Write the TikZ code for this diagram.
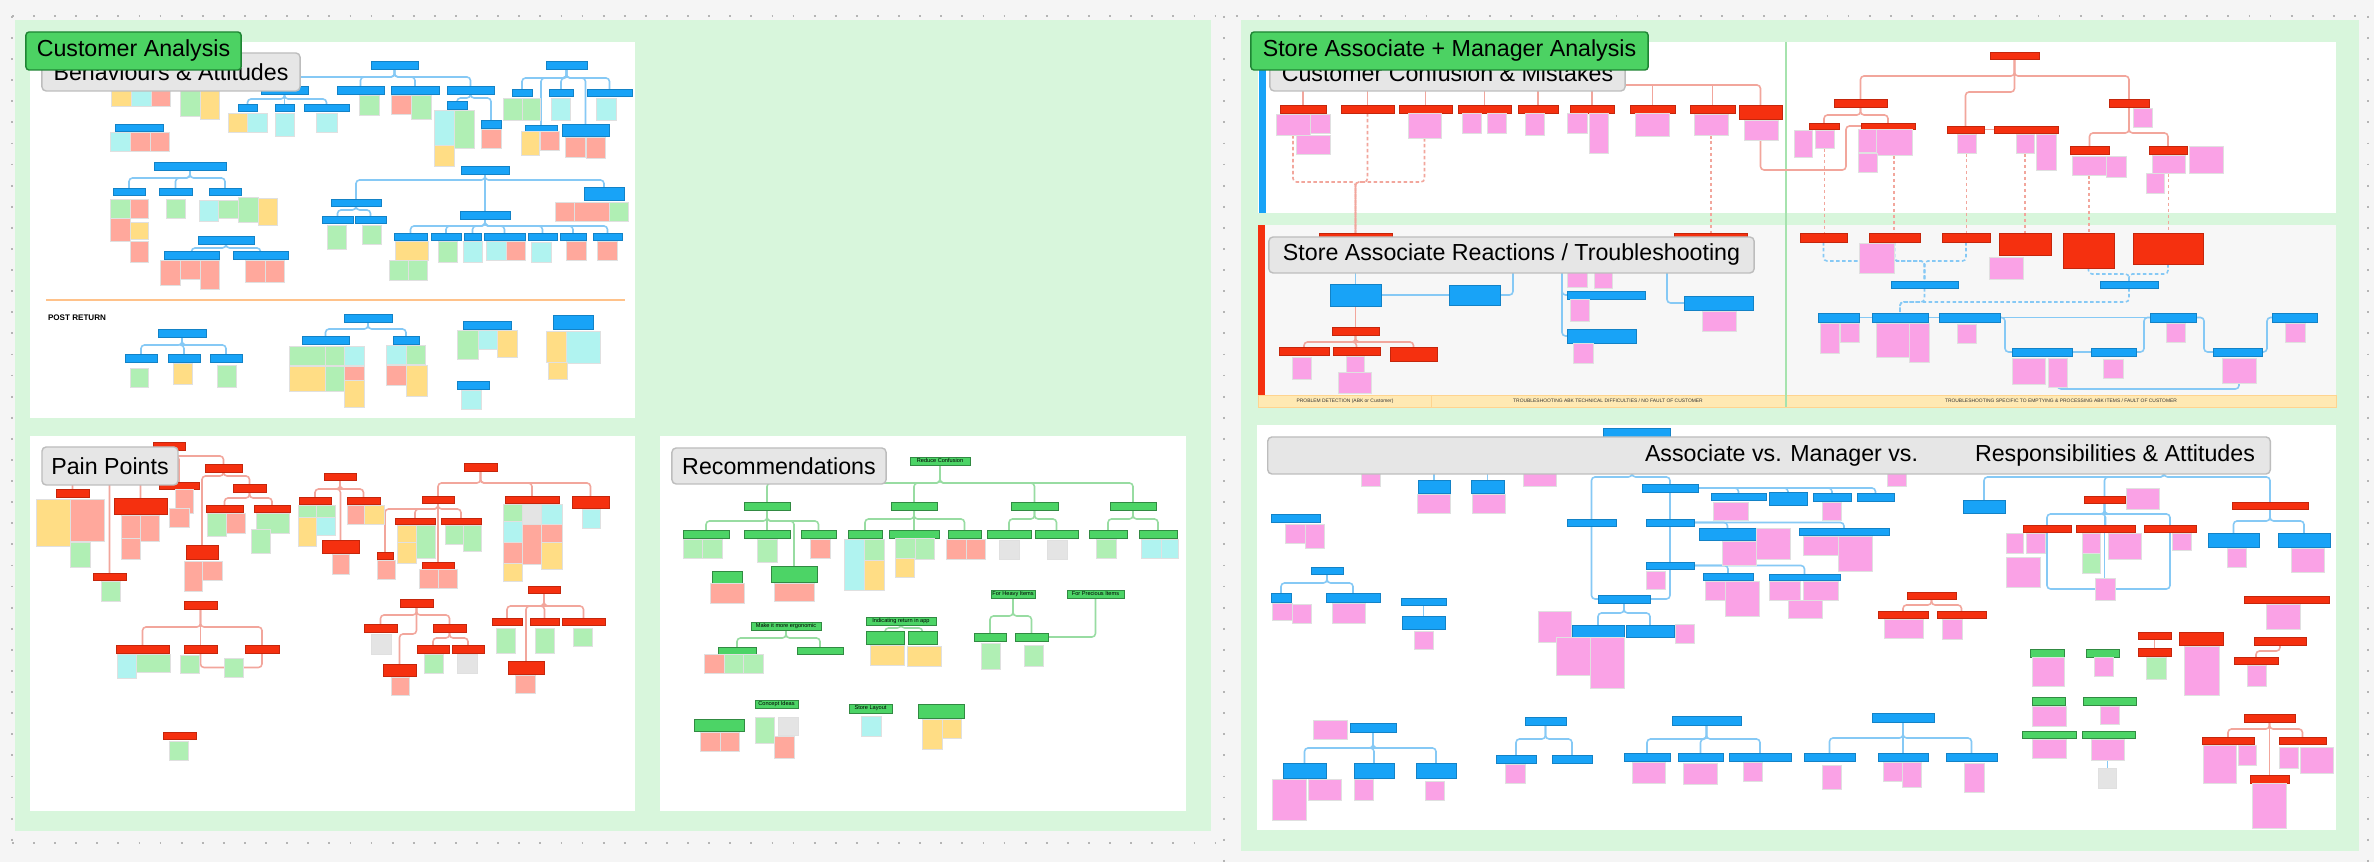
\documentclass[tikz,border=0pt]{standalone}
\usepackage{fontspec}
\setmainfont{Liberation Sans}
\definecolor{bggray}{HTML}{F5F5F5}
\definecolor{selgray}{HTML}{B5B5B5}
\definecolor{frgreen}{HTML}{D8F6DC}
\definecolor{panelgray}{HTML}{F7F7F7}
\definecolor{tagfill}{HTML}{4CD263}
\definecolor{tagline}{HTML}{1F8534}
\definecolor{ttlfill}{HTML}{E6E6E6}
\definecolor{ttlline}{HTML}{BDBDBD}
\definecolor{hdblue}{HTML}{18A3F7}
\definecolor{hdred}{HTML}{F5300F}
\definecolor{hdgreen}{HTML}{4CD466}
\definecolor{styellow}{HTML}{FFDD85}
\definecolor{stgreen}{HTML}{B0EFB4}
\definecolor{stcyan}{HTML}{B0F3F0}
\definecolor{stred}{HTML}{FFA89C}
\definecolor{stpink}{HTML}{FAA2E6}
\definecolor{stgray}{HTML}{E4E4E4}
\definecolor{lnblue}{HTML}{86C9F5}
\definecolor{lnred}{HTML}{F2A69C}
\definecolor{lngreen}{HTML}{98DCA2}
\definecolor{bandyel}{HTML}{FFE9B3}
\definecolor{orangeln}{HTML}{FFC28A}
\definecolor{divgreen}{HTML}{A6E3AE}
\pgfdeclarelayer{bg}
\pgfdeclarelayer{lines}
\pgfsetlayers{bg,lines,main}
\tikzset{
  every node/.style={inner sep=0pt, outer sep=0pt},
  hb/.style={fill=hdblue, draw=hdblue!80!black, line width=0.1pt},
  hr/.style={fill=hdred, draw=hdred!80!black, line width=0.1pt},
  hg/.style={fill=hdgreen, draw=hdgreen!65!black, line width=0.1pt, font=\fontsize{1.6}{1.8}\selectfont},
  stk/.style={draw=black!12, line width=0.1pt},
  sy/.style={stk, fill=styellow},
  sg/.style={stk, fill=stgreen},
  sc/.style={stk, fill=stcyan},
  sr/.style={stk, fill=stred},
  sp/.style={stk, fill=stpink},
  sgy/.style={stk, fill=stgray},
  lb/.style={draw=lnblue, line width=0.45pt, rounded corners=1pt},
  lr/.style={draw=lnred, line width=0.45pt, rounded corners=1pt},
  lg/.style={draw=lngreen, line width=0.45pt, rounded corners=1pt},
  ldr/.style={lr, dash pattern=on 1pt off 0.7pt},
  ldb/.style={lb, dash pattern=on 1pt off 0.7pt},
  tagbox/.style={fill=tagfill, draw=tagline, line width=0.4pt, rounded corners=0.9pt, font=\fontsize{6.6}{7}\selectfont},
  ttlbox/.style={fill=ttlfill, draw=ttlline, line width=0.4pt, rounded corners=1.2pt, font=\fontsize{6.6}{7}\selectfont},
  bandtxt/.style={font=\fontsize{1.4}{1.6}\selectfont, text=black!80},
  selln/.style={draw=selgray, line width=0.6pt, dash pattern=on 0.5pt off 5.5pt},
}
\newcommand{\card}[7]{\node[#1, minimum width={(#5-#3)*0.1mm}, minimum height={(#6-#4)*0.1mm}] (#2) at ({(#3+#5)/2},{(#4+#6)/2}) {#7};}
\newcommand{\branches}[4]{\foreach \kid in {#4} {\draw[#1] (#2.south) -- (#2.south |- 0,#3) -| (\kid.north);}}

\begin{document}
\begin{tikzpicture}[x=0.01cm, y=-0.01cm]
\useasboundingbox (0,0) rectangle (2374,862);
\begin{pgfonlayer}{bg}
\fill[bggray] (0,0) rectangle (2374,862);
\fill[frgreen] (15,20) rectangle (1211,831);
\fill[frgreen] (1241,20) rectangle (2359,851);
\draw[selln] (12,16) -- (2368,16);
\draw[selln] (12,843) -- (1224,843);
\draw[selln] (12,16) -- (12,843);
\draw[selln] (1224,16) -- (1224,862);
\draw[selln] (2368,16) -- (2368,862);
\fill[white] (30,42) rectangle (635,418);
\fill[white] (30,436) rectangle (635,811);
\fill[white] (660,436) rectangle (1186,811);
\fill[white] (1258,42) rectangle (2336,213);
\fill[panelgray] (1258,225) rectangle (2336,395);
\fill[white] (1257,425) rectangle (2336,830);
\fill[bandyel] (1258,395) rectangle (2336,407);
\draw[bandyel!80!orange, line width=0.2pt] (1258,395) rectangle (2336,407);
\draw[bandyel!80!orange, line width=0.2pt] (1431,395) -- (1431,407);
\draw[divgreen, line width=0.3pt] (1786,42) -- (1786,407);
\fill[hdblue] (1259,55) rectangle (1266,213);
\fill[hdred] (1258,225) rectangle (1265,395);
\draw[orangeln, line width=0.7pt] (46,300) -- (625,300);
\end{pgfonlayer}

\card{hb}{bh1}{371}{61}{418}{69}{}
\card{hb}{bh2}{546}{61}{587}{69}{}
\card{hb}{bh3}{261}{86}{308}{94}{}
\card{hb}{bh4}{337}{86}{384}{94}{}
\card{hb}{bh5}{391}{86}{439}{94}{}
\card{hb}{bh6}{447}{86}{494}{94}{}
\card{hb}{bh7}{238}{104}{257}{111}{}
\card{hb}{bh8}{275}{104}{294}{111}{}
\card{hb}{bh9}{304}{104}{349}{111}{}
\card{hb}{bh10}{447}{101}{467}{109}{}
\card{hb}{bh11}{481}{120}{501}{128}{}
\card{hb}{bh12}{512}{89}{532}{96}{}
\card{hb}{bh13}{549}{89}{573}{96}{}
\card{hb}{bh14}{587}{89}{632}{96}{}
\card{hb}{bh15}{525}{125}{557}{131}{}
\card{hb}{bh16}{562}{124}{609}{136}{}
\card{hb}{bh17}{115}{124}{163}{131}{}
\card{hb}{bh18}{154}{162}{226}{170}{}
\card{hb}{bh19}{113}{188}{145}{195}{}
\card{hb}{bh20}{159}{188}{192}{195}{}
\card{hb}{bh21}{209}{188}{241}{195}{}
\card{hb}{bh22}{198}{236}{254}{244}{}
\card{hb}{bh23}{164}{251}{219}{259}{}
\card{hb}{bh24}{233}{251}{288}{259}{}
\card{hb}{bh25}{461}{166}{509}{174}{}
\card{hb}{bh26}{331}{199}{381}{206}{}
\card{hb}{bh27}{460}{211}{510}{219}{}
\card{hb}{bh28}{584}{187}{624}{200}{}
\card{hb}{bh29}{322}{216}{353}{223}{}
\card{hb}{bh30}{355}{216}{386}{223}{}
\card{hb}{bh31}{394}{233}{427}{240}{}
\card{hb}{bh32}{431}{233}{461}{240}{}
\card{hb}{bh33}{464}{233}{481}{240}{}
\card{hb}{bh34}{484}{233}{525}{240}{}
\card{hb}{bh35}{528}{233}{557}{240}{}
\card{hb}{bh36}{560}{233}{586}{240}{}
\card{hb}{bh37}{593}{233}{622}{240}{}
\card{hb}{bh38}{158}{329}{206}{337}{}
\card{hb}{bh39}{125}{354}{157}{362}{}
\card{hb}{bh40}{168}{354}{200}{362}{}
\card{hb}{bh41}{210}{354}{242}{362}{}
\card{hb}{bh42}{344}{314}{392}{322}{}
\card{hb}{bh43}{302}{336}{349}{344}{}
\card{hb}{bh44}{393}{336}{419}{344}{}
\card{hb}{bh45}{463}{321}{511}{329}{}
\card{hb}{bh46}{457}{381}{489}{389}{}
\card{hb}{bh47}{553}{315}{593}{329}{}

\card{sy}{bs1}{111}{90}{131}{106}{}
\card{sc}{bs2}{131}{90}{151}{106}{}
\card{sr}{bs3}{151}{90}{170}{106}{}
\card{sg}{bs4}{180}{90}{200}{116}{}
\card{sy}{bs5}{200}{90}{219}{119}{}
\card{sy}{bs6}{228}{113}{247}{132}{}
\card{sc}{bs7}{247}{113}{267}{132}{}
\card{sc}{bs8}{275}{113}{294}{136}{}
\card{sc}{bs9}{316}{113}{337}{132}{}
\card{sg}{bs10}{359}{95}{379}{115}{}
\card{sr}{bs11}{391}{95}{411}{114}{}
\card{sg}{bs12}{411}{95}{431}{119}{}
\card{sc}{bs13}{434}{110}{454}{145}{}
\card{sg}{bs14}{454}{110}{474}{148}{}
\card{sy}{bs15}{434}{145}{454}{166}{}
\card{sr}{bs16}{481}{129}{501}{148}{}
\card{sg}{bs17}{503}{98}{522}{120}{}
\card{sg}{bs18}{522}{98}{540}{120}{}
\card{sc}{bs19}{551}{98}{570}{120}{}
\card{sc}{bs20}{596}{98}{616}{120}{}
\card{sy}{bs21}{521}{131}{539}{155}{}
\card{sr}{bs22}{540}{131}{559}{150}{}
\card{sr}{bs23}{565}{137}{585}{157}{}
\card{sr}{bs24}{586}{137}{605}{158}{}
\card{sc}{bs25}{110}{132}{130}{151}{}
\card{sr}{bs26}{130}{132}{150}{151}{}
\card{sr}{bs27}{150}{132}{169}{151}{}
\card{sg}{bs28}{110}{199}{130}{218}{}
\card{sr}{bs29}{130}{199}{148}{218}{}
\card{sr}{bs30}{110}{218}{130}{241}{}
\card{sy}{bs31}{130}{222}{148}{239}{}
\card{sr}{bs32}{130}{241}{148}{262}{}
\card{sg}{bs33}{166}{199}{185}{218}{}
\card{sc}{bs34}{199}{200}{218}{221}{}
\card{sg}{bs35}{218}{200}{238}{218}{}
\card{sg}{bs36}{238}{197}{258}{222}{}
\card{sy}{bs37}{258}{198}{277}{225}{}
\card{sr}{bs38}{160}{260}{180}{285}{}
\card{sr}{bs39}{180}{260}{200}{279}{}
\card{sr}{bs40}{200}{260}{219}{289}{}
\card{sr}{bs41}{245}{260}{265}{282}{}
\card{sr}{bs42}{265}{260}{284}{282}{}
\card{sr}{bs43}{555}{202}{574}{221}{}
\card{sr}{bs44}{574}{202}{609}{221}{}
\card{sg}{bs45}{609}{202}{628}{221}{}
\card{sg}{bs46}{327}{225}{346}{249}{}
\card{sg}{bs47}{362}{225}{381}{244}{}
\card{sy}{bs48}{395}{241}{428}{260}{}
\card{sg}{bs49}{389}{260}{408}{280}{}
\card{sg}{bs50}{408}{260}{427}{280}{}
\card{sg}{bs51}{438}{241}{457}{262}{}
\card{sc}{bs52}{463}{241}{482}{262}{}
\card{sc}{bs53}{486}{241}{506}{260}{}
\card{sr}{bs54}{506}{241}{525}{260}{}
\card{sc}{bs55}{531}{242}{551}{262}{}
\card{sr}{bs56}{566}{241}{586}{260}{}
\card{sr}{bs57}{597}{241}{617}{260}{}
\card{sg}{bs58}{130}{368}{148}{387}{}
\card{sy}{bs59}{173}{363}{192}{384}{}
\card{sg}{bs60}{217}{365}{236}{387}{}
\card{sg}{bs61}{289}{346}{325}{365}{}
\card{sg}{bs62}{325}{346}{344}{365}{}
\card{sc}{bs63}{344}{346}{364}{365}{}
\card{sy}{bs64}{289}{366}{325}{391}{}
\card{sg}{bs65}{325}{366}{344}{391}{}
\card{sr}{bs66}{344}{366}{364}{380}{}
\card{sy}{bs67}{344}{380}{364}{407}{}
\card{sc}{bs68}{386}{345}{406}{364}{}
\card{sg}{bs69}{406}{345}{425}{364}{}
\card{sr}{bs70}{386}{365}{406}{385}{}
\card{sy}{bs71}{406}{365}{427}{396}{}
\card{sg}{bs72}{457}{330}{478}{359}{}
\card{sc}{bs73}{478}{330}{497}{349}{}
\card{sy}{bs74}{497}{330}{517}{357}{}
\card{sc}{bs75}{461}{390}{481}{409}{}
\card{sy}{bs76}{546}{331}{566}{362}{}
\card{sc}{bs77}{566}{331}{600}{363}{}
\card{sy}{bs78}{548}{362}{567}{379}{}
\node[font=\bfseries\fontsize{2.3}{2.5}\selectfont, anchor=west] (postret) at (48,318) {POST RETURN};

\card{hr}{ph1}{153}{442}{185}{450}{}
\card{hr}{ph2}{205}{464}{242}{472}{}
\card{hr}{ph3}{93}{573}{126}{580}{}
\card{hr}{ph4}{56}{489}{89}{497}{}
\card{hr}{ph5}{114}{498}{167}{514}{}
\card{hr}{ph6}{159}{482}{199}{489}{}
\card{hr}{ph7}{186}{545}{218}{559}{}
\card{hr}{ph8}{233}{484}{266}{492}{}
\card{hr}{ph9}{206}{505}{243}{512}{}
\card{hr}{ph10}{254}{505}{290}{512}{}
\card{hr}{ph11}{324}{473}{356}{480}{}
\card{hr}{ph12}{299}{497}{331}{504}{}
\card{hr}{ph13}{347}{497}{380}{504}{}
\card{hr}{ph14}{322}{540}{359}{553}{}
\card{hr}{ph15}{464}{463}{497}{471}{}
\card{hr}{ph16}{422}{496}{454}{503}{}
\card{hr}{ph17}{505}{496}{559}{503}{}
\card{hr}{ph18}{572}{496}{609}{508}{}
\card{hr}{ph19}{395}{518}{435}{524}{}
\card{hr}{ph20}{441}{518}{481}{524}{}
\card{hr}{ph21}{377}{552}{393}{559}{}
\card{hr}{ph22}{422}{562}{454}{569}{}
\card{hr}{ph23}{184}{601}{217}{609}{}
\card{hr}{ph24}{116}{645}{169}{653}{}
\card{hr}{ph25}{184}{645}{217}{653}{}
\card{hr}{ph26}{245}{645}{279}{653}{}
\card{hr}{ph27}{400}{599}{433}{607}{}
\card{hr}{ph28}{364}{624}{397}{632}{}
\card{hr}{ph29}{433}{624}{466}{632}{}
\card{hr}{ph30}{383}{664}{416}{676}{}
\card{hr}{ph31}{417}{645}{449}{653}{}
\card{hr}{ph32}{452}{645}{484}{653}{}
\card{hr}{ph33}{528}{586}{560}{593}{}
\card{hr}{ph34}{492}{618}{522}{625}{}
\card{hr}{ph35}{530}{618}{559}{625}{}
\card{hr}{ph36}{562}{618}{605}{625}{}
\card{hr}{ph37}{508}{661}{544}{674}{}
\card{hr}{ph38}{163}{732}{196}{739}{}

\card{sy}{ps1}{36}{499}{70}{546}{}
\card{sr}{ps2}{70}{499}{104}{541}{}
\card{sg}{ps3}{70}{542}{90}{567}{}
\card{sr}{ps4}{121}{515}{140}{538}{}
\card{sr}{ps5}{140}{515}{159}{541}{}
\card{sr}{ps6}{121}{538}{140}{559}{}
\card{sr}{ps7}{175}{489}{193}{513}{}
\card{sr}{ps8}{169}{508}{189}{527}{}
\card{sg}{ps9}{101}{581}{120}{601}{}
\card{sg}{ps10}{207}{513}{226}{536}{}
\card{sr}{ps11}{226}{513}{245}{533}{}
\card{sg}{ps12}{256}{513}{289}{533}{}
\card{sg}{ps13}{251}{529}{270}{553}{}
\card{sr}{ps14}{184}{561}{202}{591}{}
\card{sr}{ps15}{202}{561}{222}{580}{}
\card{sg}{ps16}{298}{505}{316}{517}{}
\card{sg}{ps17}{316}{505}{335}{517}{}
\card{sy}{ps18}{298}{517}{316}{546}{}
\card{sc}{ps19}{316}{517}{335}{535}{}
\card{sr}{ps20}{347}{505}{364}{524}{}
\card{sy}{ps21}{364}{505}{384}{524}{}
\card{sr}{ps22}{332}{554}{349}{574}{}
\card{sy}{ps23}{397}{525}{416}{544}{}
\card{sg}{ps24}{416}{525}{435}{558}{}
\card{sy}{ps25}{397}{542}{416}{563}{}
\card{sg}{ps26}{445}{525}{463}{544}{}
\card{sg}{ps27}{463}{525}{481}{551}{}
\card{sr}{ps28}{377}{560}{395}{579}{}
\card{sr}{ps29}{419}{569}{438}{588}{}
\card{sr}{ps30}{438}{569}{457}{588}{}
\card{sg}{ps31}{503}{504}{522}{521}{}
\card{sgy}{ps32}{522}{504}{541}{524}{}
\card{sc}{ps33}{541}{504}{562}{524}{}
\card{sc}{ps34}{503}{521}{522}{542}{}
\card{sr}{ps35}{522}{524}{541}{564}{}
\card{sr}{ps36}{541}{524}{562}{542}{}
\card{sy}{ps37}{541}{542}{562}{569}{}
\card{sr}{ps38}{503}{542}{522}{563}{}
\card{sy}{ps39}{503}{563}{522}{581}{}
\card{sc}{ps40}{582}{509}{600}{528}{}
\card{sc}{ps41}{117}{654}{136}{678}{}
\card{sg}{ps42}{136}{654}{170}{672}{}
\card{sg}{ps43}{180}{655}{199}{673}{}
\card{sg}{ps44}{224}{658}{243}{677}{}
\card{sgy}{ps45}{371}{634}{391}{654}{}
\card{sg}{ps46}{424}{654}{443}{673}{}
\card{sgy}{ps47}{457}{654}{477}{673}{}
\card{sr}{ps48}{391}{677}{409}{695}{}
\card{sg}{ps49}{496}{628}{515}{653}{}
\card{sg}{ps50}{535}{628}{554}{653}{}
\card{sg}{ps51}{573}{628}{592}{646}{}
\card{sr}{ps52}{515}{675}{535}{693}{}
\card{sg}{ps53}{169}{741}{188}{760}{}

\card{hg}{rh1}{910}{457}{970}{465}{Reduce Confusion}
\card{hg}{rh2}{744}{502}{790}{510}{}
\card{hg}{rh3}{891}{502}{937}{510}{}
\card{hg}{rh4}{1011}{502}{1058}{510}{}
\card{hg}{rh5}{1110}{502}{1156}{510}{}
\card{hg}{rh6}{683}{530}{729}{538}{}
\card{hg}{rh7}{744}{530}{790}{538}{}
\card{hg}{rh8}{801}{530}{836}{538}{}
\card{hg}{rh9}{771}{566}{817}{582}{}
\card{hg}{rh10}{712}{571}{742}{583}{}
\card{hg}{rh11}{848}{530}{882}{538}{}
\card{hg}{rh12}{889}{530}{939}{538}{}
\card{hg}{rh13}{948}{530}{981}{538}{}
\card{hg}{rh14}{987}{530}{1031}{538}{}
\card{hg}{rh15}{1035}{530}{1078}{538}{}
\card{hg}{rh16}{1089}{530}{1127}{538}{}
\card{hg}{rh17}{1139}{530}{1177}{538}{}
\card{hg}{rh18}{991}{590}{1035}{598}{For Heavy Items}
\card{hg}{rh19}{1067}{590}{1124}{598}{For Precious Items}
\card{hg}{rh20}{974}{633}{1006}{641}{}
\card{hg}{rh21}{1015}{633}{1048}{641}{}
\card{hg}{rh22}{751}{622}{821}{630}{Make it more ergonomic}
\card{hg}{rh23}{718}{647}{756}{654}{}
\card{hg}{rh24}{797}{647}{843}{654}{}
\card{hg}{rh25}{866}{617}{936}{625}{Indicating return in app}
\card{hg}{rh26}{866}{631}{904}{644}{}
\card{hg}{rh27}{908}{631}{937}{644}{}
\card{hg}{rh28}{755}{700}{798}{708}{Concept Ideas}
\card{hg}{rh29}{694}{719}{744}{731}{}
\card{hg}{rh30}{849}{704}{892}{713}{Store Layout}
\card{hg}{rh31}{918}{704}{964}{718}{}

\card{sg}{rs1}{683}{539}{702}{558}{}
\card{sg}{rs2}{702}{539}{722}{558}{}
\card{sg}{rs3}{757}{539}{777}{562}{}
\card{sr}{rs4}{810}{539}{830}{558}{}
\card{sr}{rs5}{710}{583}{744}{603}{}
\card{sr}{rs6}{774}{583}{814}{601}{}
\card{sc}{rs7}{844}{539}{864}{590}{}
\card{sg}{rs8}{864}{539}{884}{560}{}
\card{sy}{rs9}{864}{560}{884}{590}{}
\card{sg}{rs10}{895}{538}{915}{559}{}
\card{sg}{rs11}{915}{538}{934}{559}{}
\card{sy}{rs12}{895}{558}{914}{577}{}
\card{sr}{rs13}{946}{539}{966}{559}{}
\card{sr}{rs14}{966}{539}{985}{559}{}
\card{sgy}{rs15}{999}{540}{1019}{559}{}
\card{sgy}{rs16}{1047}{540}{1067}{559}{}
\card{sg}{rs17}{1096}{539}{1116}{558}{}
\card{sc}{rs18}{1141}{539}{1161}{558}{}
\card{sc}{rs19}{1161}{539}{1178}{558}{}
\card{sg}{rs20}{981}{643}{1000}{669}{}
\card{sg}{rs21}{1024}{645}{1043}{666}{}
\card{sr}{rs22}{704}{654}{724}{673}{}
\card{sg}{rs23}{724}{654}{743}{673}{}
\card{sg}{rs24}{743}{654}{763}{673}{}
\card{sy}{rs25}{870}{645}{904}{665}{}
\card{sy}{rs26}{907}{646}{941}{666}{}
\card{sr}{rs27}{700}{732}{720}{751}{}
\card{sr}{rs28}{720}{732}{739}{751}{}
\card{sg}{rs29}{755}{717}{774}{743}{}
\card{sgy}{rs30}{778}{717}{798}{735}{}
\card{sr}{rs31}{774}{736}{794}{758}{}
\card{sc}{rs32}{861}{716}{881}{736}{}
\card{sy}{rs33}{922}{719}{942}{749}{}
\card{sy}{rs34}{942}{719}{961}{738}{}

\card{hr}{ch1}{1280}{105}{1326}{113}{}
\card{hr}{ch2}{1341}{105}{1394}{113}{}
\card{hr}{ch3}{1399}{105}{1452}{113}{}
\card{hr}{ch4}{1458}{105}{1511}{113}{}
\card{hr}{ch5}{1518}{105}{1558}{113}{}
\card{hr}{ch6}{1570}{105}{1614}{113}{}
\card{hr}{ch7}{1630}{105}{1675}{113}{}
\card{hr}{ch8}{1690}{105}{1735}{113}{}
\card{hr}{ch9}{1739}{105}{1782}{119}{}
\card{hr}{ch10}{1990}{52}{2039}{59}{}
\card{hr}{ch11}{1834}{99}{1887}{107}{}
\card{hr}{ch12}{2109}{99}{2149}{107}{}
\card{hr}{ch13}{1947}{126}{1984}{133}{}
\card{hr}{ch14}{1994}{126}{2058}{133}{}
\card{hr}{ch15}{1809}{123}{1839}{129}{}
\card{hr}{ch16}{1861}{123}{1915}{129}{}
\card{hr}{ch17}{2070}{146}{2109}{154}{}
\card{hr}{ch18}{2149}{146}{2187}{154}{}

\card{sp}{cs1}{1276}{114}{1310}{135}{}
\card{sp}{cs2}{1310}{114}{1330}{133}{}
\card{sp}{cs3}{1296}{135}{1330}{154}{}
\card{sp}{cs4}{1408}{113}{1441}{138}{}
\card{sp}{cs5}{1462}{113}{1481}{133}{}
\card{sp}{cs6}{1487}{113}{1506}{133}{}
\card{sp}{cs7}{1525}{113}{1544}{135}{}
\card{sp}{cs8}{1567}{113}{1587}{133}{}
\card{sp}{cs9}{1589}{113}{1608}{153}{}
\card{sp}{cs10}{1635}{113}{1669}{136}{}
\card{sp}{cs11}{1694}{114}{1728}{135}{}
\card{sp}{cs12}{1744}{120}{1778}{140}{}
\card{sp}{cs13}{1794}{130}{1812}{157}{}
\card{sp}{cs14}{1815}{130}{1834}{148}{}
\card{sp}{cs15}{1858}{129}{1876}{152}{}
\card{sp}{cs16}{1876}{129}{1912}{155}{}
\card{sp}{cs17}{1858}{153}{1877}{172}{}
\card{sp}{cs18}{1957}{134}{1976}{153}{}
\card{sp}{cs19}{2016}{134}{2034}{153}{}
\card{sp}{cs20}{2036}{134}{2056}{170}{}
\card{sp}{cs21}{2133}{108}{2152}{127}{}
\card{sp}{cs22}{2072}{156}{2106}{175}{}
\card{sp}{cs23}{2106}{156}{2126}{177}{}
\card{sp}{cs24}{2152}{155}{2185}{173}{}
\card{sp}{cs25}{2189}{146}{2223}{173}{}
\card{sp}{cs26}{2146}{173}{2164}{193}{}

\card{hr}{xr1}{1319}{233}{1392}{240}{}
\card{hr}{xr2}{1674}{233}{1747}{240}{}
\card{hr}{xr3}{1800}{233}{1847}{242}{}
\card{hr}{xr4}{1869}{233}{1920}{242}{}
\card{hr}{xr5}{1942}{233}{1990}{242}{}
\card{hr}{xr6}{1999}{233}{2051}{255}{}
\card{hr}{xr7}{2063}{233}{2114}{268}{}
\card{hr}{xr8}{2133}{233}{2203}{264}{}
\card{hr}{xr9}{1332}{327}{1379}{335}{}
\card{hr}{xr10}{1279}{347}{1329}{355}{}
\card{hr}{xr11}{1333}{347}{1380}{355}{}
\card{hr}{xr12}{1390}{347}{1437}{361}{}
\card{hb}{xb1}{1330}{284}{1381}{306}{}
\card{hb}{xb2}{1449}{285}{1500}{305}{}
\card{hb}{xb3}{1567}{291}{1645}{299}{}
\card{hb}{xb4}{1567}{329}{1636}{343}{}
\card{hb}{xb5}{1684}{296}{1753}{310}{}
\card{hb}{xb6}{1891}{281}{1958}{288}{}
\card{hb}{xb7}{2100}{281}{2158}{288}{}
\card{hb}{xb8}{1818}{313}{1859}{322}{}
\card{hb}{xb9}{1872}{313}{1928}{322}{}
\card{hb}{xb10}{1939}{313}{2000}{322}{}
\card{hb}{xb11}{2150}{313}{2196}{322}{}
\card{hb}{xb12}{2272}{313}{2317}{322}{}
\card{hb}{xb13}{2012}{348}{2072}{356}{}
\card{hb}{xb14}{2091}{348}{2136}{356}{}
\card{hb}{xb15}{2213}{348}{2262}{356}{}

\card{sp}{xs1}{1859}{243}{1894}{273}{}
\card{sp}{xs2}{1989}{257}{2023}{279}{}
\card{sp}{xs3}{1567}{262}{1587}{287}{}
\card{sp}{xs4}{1594}{262}{1612}{288}{}
\card{sp}{xs5}{1570}{299}{1589}{321}{}
\card{sp}{xs6}{1573}{343}{1593}{363}{}
\card{sp}{xs7}{1702}{311}{1736}{331}{}
\card{sp}{xs8}{1292}{357}{1311}{379}{}
\card{sp}{xs9}{1346}{356}{1364}{372}{}
\card{sp}{xs10}{1338}{372}{1371}{393}{}
\card{sp}{xs11}{1820}{323}{1839}{353}{}
\card{sp}{xs12}{1840}{323}{1859}{342}{}
\card{sp}{xs13}{1876}{323}{1909}{357}{}
\card{sp}{xs14}{1909}{323}{1929}{362}{}
\card{sp}{xs15}{1957}{324}{1976}{343}{}
\card{sp}{xs16}{2166}{323}{2185}{342}{}
\card{sp}{xs17}{2285}{323}{2305}{342}{}
\card{sp}{xs18}{2012}{358}{2045}{384}{}
\card{sp}{xs19}{2048}{358}{2067}{387}{}
\card{sp}{xs20}{2103}{359}{2123}{378}{}
\card{sp}{xs21}{2222}{358}{2256}{383}{}
\node[bandtxt] (bt1) at (1345,401) {PROBLEM DETECTION (ABK or Customer)};
\node[bandtxt] (bt2) at (1608,401) {TROUBLESHOOTING ABK TECHNICAL DIFFICULTIES / NO FAULT OF CUSTOMER};
\node[bandtxt] (bt3) at (2061,401) {TROUBLESHOOTING SPECIFIC TO EMPTYING \& PROCESSING ABK ITEMS / FAULT OF CUSTOMER};

\card{hb}{ab1}{1603}{428}{1670}{437}{}
\card{hb}{ab2}{1418}{480}{1450}{493}{}
\card{hb}{ab3}{1471}{480}{1504}{493}{}
\card{hb}{ab4}{1271}{514}{1320}{522}{}
\card{hb}{ab5}{1311}{567}{1343}{574}{}
\card{hb}{ab6}{1271}{593}{1291}{602}{}
\card{hb}{ab7}{1326}{593}{1380}{602}{}
\card{hb}{ab8}{1401}{598}{1446}{605}{}
\card{hb}{ab9}{1402}{616}{1445}{629}{}
\card{hb}{ab10}{1567}{519}{1616}{526}{}
\card{hb}{ab11}{1642}{484}{1698}{492}{}
\card{hb}{ab12}{1598}{595}{1650}{603}{}
\card{hb}{ab13}{1646}{519}{1694}{526}{}
\card{hb}{ab14}{1646}{562}{1694}{569}{}
\card{hb}{ab15}{1711}{493}{1766}{500}{}
\card{hb}{ab16}{1769}{492}{1807}{505}{}
\card{hb}{ab17}{1813}{493}{1851}{501}{}
\card{hb}{ab18}{1857}{493}{1894}{501}{}
\card{hb}{ab19}{1699}{528}{1756}{540}{}
\card{hb}{ab20}{1799}{528}{1889}{535}{}
\card{hb}{ab21}{1703}{573}{1753}{580}{}
\card{hb}{ab22}{1769}{574}{1840}{580}{}
\card{hb}{ab23}{1572}{625}{1624}{637}{}
\card{hb}{ab24}{1626}{625}{1674}{637}{}
\card{hb}{ab25}{1963}{500}{2005}{513}{}
\card{hb}{ab26}{2208}{533}{2259}{547}{}
\card{hb}{ab27}{2278}{533}{2330}{547}{}
\card{hb}{ab28}{1350}{723}{1396}{732}{}
\card{hb}{ab29}{1283}{763}{1326}{778}{}
\card{hb}{ab30}{1354}{763}{1394}{778}{}
\card{hb}{ab31}{1416}{763}{1456}{778}{}
\card{hb}{ab32}{1525}{717}{1566}{725}{}
\card{hb}{ab33}{1496}{755}{1536}{763}{}
\card{hb}{ab34}{1552}{755}{1592}{763}{}
\card{hb}{ab35}{1672}{716}{1741}{725}{}
\card{hb}{ab36}{1624}{753}{1670}{761}{}
\card{hb}{ab37}{1678}{753}{1723}{761}{}
\card{hb}{ab38}{1729}{753}{1791}{761}{}
\card{hb}{ab39}{1872}{713}{1934}{722}{}
\card{hb}{ab40}{1804}{753}{1855}{761}{}
\card{hb}{ab41}{1878}{753}{1928}{761}{}
\card{hb}{ab42}{1946}{753}{1997}{761}{}
\card{hr}{ar1}{2084}{496}{2125}{503}{}
\card{hr}{ar2}{2232}{502}{2308}{509}{}
\card{hr}{ar3}{2023}{525}{2071}{532}{}
\card{hr}{ar4}{2076}{525}{2135}{532}{}
\card{hr}{ar5}{2144}{525}{2196}{532}{}
\card{hr}{ar6}{2244}{596}{2329}{603}{}
\card{hr}{ar7}{1907}{592}{1956}{599}{}
\card{hr}{ar8}{1878}{611}{1928}{618}{}
\card{hr}{ar9}{1937}{611}{1986}{618}{}
\card{hr}{ar10}{2138}{632}{2171}{639}{}
\card{hr}{ar11}{2138}{648}{2171}{656}{}
\card{hr}{ar12}{2179}{632}{2223}{645}{}
\card{hr}{ar13}{2254}{637}{2306}{645}{}
\card{hr}{ar14}{2234}{657}{2278}{664}{}
\card{hr}{ar15}{2244}{714}{2295}{722}{}
\card{hr}{ar16}{2202}{737}{2254}{744}{}
\card{hr}{ar17}{2279}{737}{2326}{744}{}
\card{hr}{ar18}{2250}{775}{2289}{783}{}
\card{hg}{ag1}{2030}{649}{2064}{657}{}
\card{hg}{ag2}{2086}{649}{2119}{657}{}
\card{hg}{ag3}{2032}{697}{2065}{705}{}
\card{hg}{ag4}{2083}{697}{2136}{705}{}
\card{hg}{ag5}{2022}{731}{2076}{738}{}
\card{hg}{ag6}{2082}{731}{2135}{738}{}

\card{sp}{as1}{1361}{466}{1380}{486}{}
\card{sp}{as2}{1417}{494}{1450}{513}{}
\card{sp}{as3}{1472}{494}{1505}{513}{}
\card{sp}{as4}{1523}{466}{1556}{486}{}
\card{sp}{as5}{1887}{466}{1906}{486}{}
\card{sp}{as6}{1285}{524}{1305}{543}{}
\card{sp}{as7}{1305}{524}{1324}{548}{}
\card{sp}{as8}{1272}{603}{1292}{620}{}
\card{sp}{as9}{1292}{604}{1311}{623}{}
\card{sp}{as10}{1332}{603}{1365}{623}{}
\card{sp}{as11}{1414}{631}{1433}{649}{}
\card{sp}{as12}{1822}{502}{1841}{520}{}
\card{sp}{as13}{1713}{502}{1748}{520}{}
\card{sp}{as14}{1722}{541}{1756}{565}{}
\card{sp}{as15}{1756}{528}{1790}{559}{}
\card{sp}{as16}{1803}{536}{1838}{555}{}
\card{sp}{as17}{1838}{536}{1872}{571}{}
\card{sp}{as18}{1646}{571}{1665}{589}{}
\card{sp}{as19}{1725}{581}{1759}{616}{}
\card{sp}{as20}{1705}{581}{1725}{600}{}
\card{sp}{as21}{1769}{581}{1800}{600}{}
\card{sp}{as22}{1803}{581}{1838}{600}{}
\card{sp}{as23}{1788}{600}{1822}{618}{}
\card{sp}{as24}{1538}{611}{1571}{642}{}
\card{sp}{as25}{1556}{637}{1590}{675}{}
\card{sp}{as26}{1590}{637}{1624}{688}{}
\card{sp}{as27}{1675}{624}{1694}{643}{}
\card{sp}{as28}{2126}{488}{2159}{509}{}
\card{sp}{as29}{2006}{533}{2023}{553}{}
\card{sp}{as30}{2026}{533}{2045}{553}{}
\card{sp}{as31}{2006}{557}{2040}{587}{}
\card{sp}{as32}{2082}{533}{2100}{553}{}
\card{sg}{as33}{2082}{553}{2100}{573}{}
\card{sp}{as34}{2108}{533}{2141}{559}{}
\card{sp}{as35}{2172}{533}{2191}{550}{}
\card{sp}{as36}{2095}{578}{2115}{600}{}
\card{sp}{as37}{2227}{548}{2246}{567}{}
\card{sp}{as38}{2291}{548}{2324}{572}{}
\card{sp}{as39}{2266}{604}{2300}{629}{}
\card{sp}{as40}{1884}{619}{1923}{638}{}
\card{sp}{as41}{1942}{619}{1962}{639}{}
\card{sg}{as42}{2146}{657}{2166}{679}{}
\card{sp}{as43}{2184}{646}{2219}{695}{}
\card{sp}{as44}{2247}{665}{2266}{686}{}
\card{sp}{as45}{2032}{657}{2064}{686}{}
\card{sp}{as46}{2094}{657}{2113}{676}{}
\card{sp}{as47}{2032}{706}{2066}{726}{}
\card{sp}{as48}{2100}{706}{2119}{724}{}
\card{sp}{as49}{2032}{739}{2066}{758}{}
\card{sp}{as50}{2091}{739}{2124}{760}{}
\card{sgy}{as51}{2098}{768}{2116}{788}{}
\card{sp}{as52}{1313}{720}{1347}{739}{}
\card{sp}{as53}{1272}{779}{1306}{820}{}
\card{sp}{as54}{1308}{779}{1341}{800}{}
\card{sp}{as55}{1354}{779}{1373}{800}{}
\card{sp}{as56}{1425}{781}{1444}{800}{}
\card{sp}{as57}{1505}{764}{1525}{783}{}
\card{sp}{as58}{1632}{762}{1665}{783}{}
\card{sp}{as59}{1683}{763}{1717}{784}{}
\card{sp}{as60}{1743}{762}{1762}{781}{}
\card{sp}{as61}{1822}{765}{1841}{789}{}
\card{sp}{as62}{1883}{762}{1902}{781}{}
\card{sp}{as63}{1902}{762}{1921}{787}{}
\card{sp}{as64}{1964}{763}{1984}{792}{}
\card{sp}{as65}{2203}{745}{2236}{783}{}
\card{sp}{as66}{2238}{745}{2256}{765}{}
\card{sp}{as67}{2279}{747}{2298}{768}{}
\card{sp}{as68}{2300}{747}{2333}{773}{}
\card{sp}{as69}{2252}{783}{2286}{828}{}

\card{ttlbox}{lbba}{42}{53}{300}{91}{Behaviours \& Attitudes}
\card{tagbox}{tgca}{26}{32}{241}{70}{Customer Analysis}
\card{ttlbox}{lbpp}{42}{447}{178}{485}{Pain Points}
\card{ttlbox}{lbrc}{672}{448}{886}{484}{Recommendations}
\card{ttlbox}{ccm}{1270}{55}{1625}{91}{Customer Confusion \& Mistakes}
\card{tagbox}{tgsa}{1251}{32}{1648}{70}{Store Associate + Manager Analysis}
\card{ttlbox}{lbrt}{1269}{237}{1754}{273}{Store Associate Reactions / Troubleshooting}
\card{ttlbox}{avm}{1268}{437}{2270}{474}{}
\node[font=\fontsize{6.6}{7}\selectfont, anchor=west] (avm1) at (1645,455.5) {Associate vs. Manager vs.};
\node[font=\fontsize{6.6}{7}\selectfont, anchor=west] (avm2) at (1975,455.5) {Responsibilities \& Attitudes};
\coordinate (xa) at (1513,265);
\coordinate (xc) at (1562,265);
\coordinate (xd) at (1667,265);
\coordinate (ctop) at (1632,474);
\coordinate (rtop) at (2164,474);

\begin{pgfonlayer}{lines}
\branches{lb}{bh1}{77}{bh3,bh4,bh5,bh6}
\branches{lb}{bh2}{78}{bh12,bh13,bh14,bh15,bh16}
\branches{lb}{bh3}{99}{bh7,bh8,bh9}
\branches{lb}{bh6}{98}{bh10,bh11}
\branches{lb}{bh18}{178}{bh19,bh20,bh21}
\branches{lb}{bh22}{248}{bh23,bh24}
\branches{lb}{bh25}{180}{bh26,bh27,bh28}
\branches{lb}{bh26}{210}{bh29,bh30}
\branches{lb}{bh27}{226}{bh31,bh32,bh33,bh34,bh35,bh36,bh37}
\branches{lb}{bh38}{345}{bh39,bh40,bh41}
\branches{lb}{bh42}{329}{bh43,bh44}

\branches{lr}{ph1}{456}{ph2,ph4,ph5,ph6,ph3}
\branches{lr}{ph2}{476}{ph7,ph8}
\branches{lr}{ph8}{498}{ph9,ph10}
\branches{lr}{ph11}{489}{ph12,ph13,ph14}
\branches{lr}{ph15}{483}{ph16,ph17,ph18}
\branches{lr}{ph16}{509}{ph19,ph20,ph21,ph22}
\branches{lr}{ph23}{627}{ph24,ph25,ph26}
\draw[lr] (ph25.south) |- (ps44.west);
\draw[lr] (ph26.south) |- (ps44.east);
\branches{lr}{ph27}{615}{ph28,ph29}
\draw[lr] (ph27.south) -- (ph27.south |- 0,634) -| (ph30.north);
\branches{lr}{ph29}{638}{ph31,ph32}
\branches{lr}{ph33}{606}{ph34,ph35,ph36,ph37}

\branches{lg}{rh1}{483}{rh2,rh3,rh4,rh5}
\branches{lg}{rh2}{521}{rh6,rh7,rh8,rh9}
\branches{lg}{rh3}{519}{rh11,rh12,rh13}
\branches{lg}{rh4}{519}{rh14,rh15}
\branches{lg}{rh5}{519}{rh16,rh17}
\branches{lg}{rh18}{616}{rh20,rh21}
\draw[lg] (rh19.south) |- (rh21.east);
\branches{lg}{rh22}{638}{rh23,rh24}
\branches{lg}{rh25}{628}{rh26,rh27}

\draw[lr] (ch1.north |- ccm.south) -- (ch1.north);
\draw[lr] (ch2.north |- ccm.south) -- (ch2.north);
\draw[lr] (ch3.north |- ccm.south) -- (ch3.north);
\draw[lr] (ch4.north |- ccm.south) -- (ch4.north);
\draw[lr] (ch5.north |- ccm.south) -- (ch5.north);
\draw[lr] (ch6.north |- ccm.south) -- (ch6.north);
\draw[lr] (ccm.east |- 0,85) -| (ch9.north);
\draw[lr] (ch7.north |- 0,85) -- (ch7.north);
\draw[lr] (ch8.north |- 0,85) -- (ch8.north);
\branches{lr}{ch10}{76}{ch11,ch12}
\draw[lr] (ch10.south) -- (ch10.south |- 0,92) -| (ch13.north);
\draw[lr] (ch13.east) -- (ch14.west);
\branches{lr}{ch11}{115}{ch15,ch16}
\branches{lr}{ch12}{133}{ch17,ch18}
\draw[lr] (ch9.south) |- (1846,170) |- (ch16.west);
\draw[ldr] (cs1.south) -- (cs1.south |- 0,182) -| (xr1.north);
\draw[ldr] (ch2.south) -- (ch2.south |- 0,182) -| (xr1.north);
\draw[ldr] (cs4.south) -- (cs4.south |- 0,182) -| (xr1.north);
\draw[ldr] (cs11.south) -- (cs11.south |- xr2.north);
\draw[ldr] (cs14.south) -- (cs14.south |- xr3.north);
\draw[ldr] (cs16.south) -- (cs16.south |- xr4.north);
\draw[ldr] (cs18.south) -- (cs18.south |- xr5.north);
\draw[ldr] (cs19.south) -- (cs19.south |- xr6.north);
\draw[ldr] (cs22.south) -- (cs22.south |- xr7.north);
\draw[ldr] (cs24.south) -- (cs24.south |- xr8.north);

\draw[lb] (xr1.south) -- (xb1.north);
\draw[lr] (xb1.south) -- (xr9.north);
\draw[lb] (xb1.east) -- (xb2.west);
\draw[lb] (xb2.east) -| (xa);
\draw[lb] (xc) |- (xb3.west);
\draw[lb] (xc) |- (xb4.west);
\draw[lb] (xd) |- (xb5.west);
\branches{lr}{xr9}{342}{xr10,xr11,xr12}
\draw[ldb] (xr3.south) |- (xb6.north |- 0,261) -- (xb6.north);
\draw[ldb] (xr4.south) |- (xb6.north |- 0,261) -- (xb6.north);
\draw[ldb] (xr5.south) |- (xb6.north |- 0,261) -- (xb6.north);
\draw[ldb] (xr7.south) |- (xb7.north |- 0,274) -- (xb7.north);
\draw[ldb] (xr8.south) |- (xb7.north |- 0,274) -- (xb7.north);
\draw[ldb] (xb6.south) -- (xb6.south |- 0,302) -| (xb9.north);
\draw[ldb] (xb7.south) -- (xb7.south |- 0,302) -| (xb9.north);
\draw[lb] (xb8.east) -- (xb9.west);
\draw[lb] (xb9.east) -- (xb10.west);
\draw[lb] (xb10.east) -- (xb11.west);
\draw[lb] (xb10.east) -- ++(5,0) |- (xb13.west);
\draw[lb] (xb13.east) -- (xb14.west);
\draw[lb] (xb14.east) -- ++(8,0) |- (xb11.west);
\draw[lb] (xb11.east) -- ++(8,0) |- (xb15.west);
\draw[lb] (xb15.east) -- ++(5,0) |- (xb12.west);
\draw[lb] (xs19.south) |- (xs21.south |- 0,389) -- (xs21.south);

\draw[lb] (ab2.north |- avm.south) -- (ab2.north);
\draw[lb] (ab3.north |- avm.south) -- (ab3.north);
\draw[lb] (ctop) -- ++(0,3) -| (ab10.north);
\draw[lb] (ctop) -- ++(0,3) -| (ab11.north);
\draw[lb] (ab10.south) |- (ab12.west);
\draw[lb] (ab11.south) -- (ab13.north);
\draw[lb] (ab13.south) -- (ab14.north);
\draw[lb] (ab14.south) |- (ab12.east);
\draw[lb] (ab11.east) -| (ab15.north);
\draw[lb] (ab11.east) -| (ab16.north);
\draw[lb] (ab11.east) -| (ab17.north);
\draw[lb] (ab11.east) -| (ab18.north);
\draw[lb] (ab13.east) -| (ab19.north);
\draw[lb] (ab13.east) -| (ab20.north);
\draw[lb] (ab14.east) -| (ab21.north);
\draw[lb] (ab14.east) -| (ab22.north);
\branches{lb}{ab12}{613}{ab23,ab24}
\branches{lb}{ab5}{583}{ab6,ab7}
\draw[lb] (ab8.south) -- (ab9.north);
\branches{lb}{ab28}{748}{ab29,ab30,ab31}
\branches{lb}{ab32}{739}{ab33,ab34}
\branches{lb}{ab35}{739}{ab36,ab37,ab38}
\branches{lb}{ab39}{738}{ab40,ab41,ab42}
\draw[lb] (rtop) -- ++(0,3) -| (ab25.north);
\draw[lb] (rtop) -- ++(0,3) -| (ar1.north);
\draw[lb] (rtop) -- ++(0,3) -| (ar2.north);
\branches{lb}{ar1}{514}{ar3,ar4,ar5}
\draw[lb] (ar1.south) -- (ar1.south |- as36.north);
\draw[lb] (ar3.south) |- (as36.west);
\draw[lb] (ar5.south) |- (as36.east);
\branches{lb}{ar2}{521}{ab26,ab27}
\branches{lr}{ar7}{605}{ar8,ar9}
\draw[lr] (ar10.south) -- (ar11.north);
\draw[lr] (ar13.south) -- ++(0,6) -| (ar14.north);
\branches{lr}{ar15}{729}{ar16,ar17,ar18}
\draw[lb] (as50.south) -- (as50.south |- as51.north);
\end{pgfonlayer}
\end{tikzpicture}
\end{document}
